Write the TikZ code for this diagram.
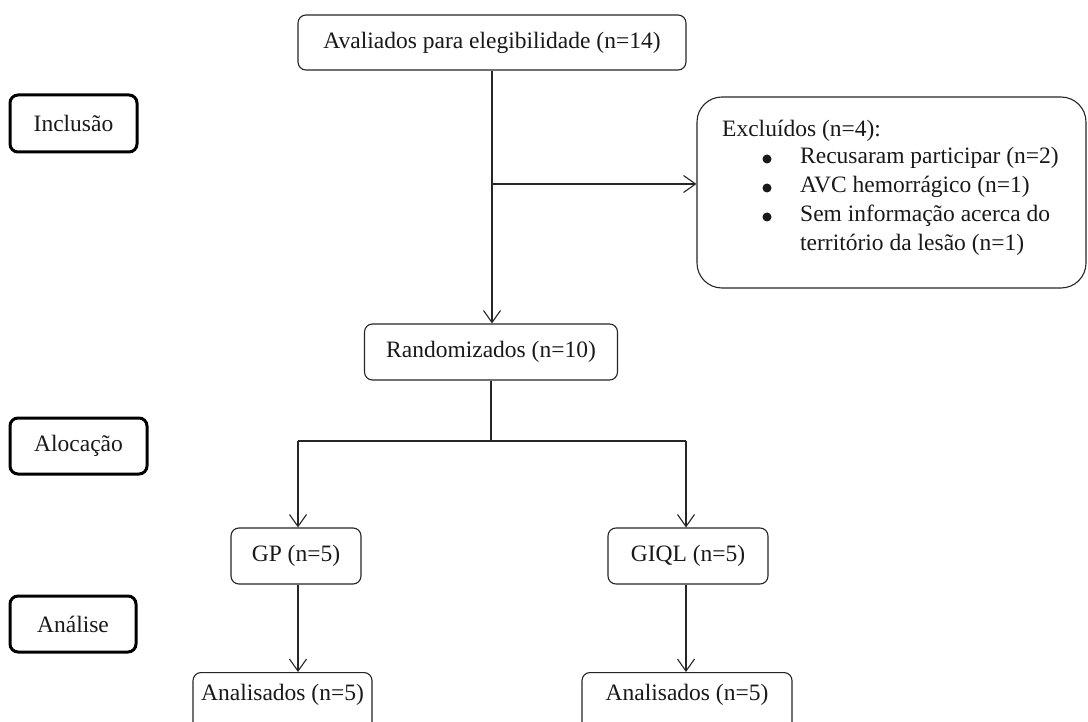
\documentclass[tikz,border=0pt]{standalone}
\usepackage{fontspec}
\setmainfont{Liberation Serif}
\usetikzlibrary{arrows.meta}
\begin{document}
\begin{tikzpicture}[x=1pt,y=-1pt,
  every node/.style={font=\fontsize{23.5}{29}\selectfont, text=black!90},
  box/.style={draw=black!85, line width=1.1pt, rounded corners=8pt, inner sep=0pt},
  stagebox/.style={draw=black, line width=3pt, rounded corners=8pt, inner sep=0pt},
  txt/.style={inner sep=0pt, anchor=west},
  bul/.style={circle, fill=black!90, inner sep=0pt, minimum size=9pt},
  arr/.style={draw=black!85, line width=1.1pt, -{Straight Barb[length=12pt,width=17pt,line width=1.1pt]}},
  ln/.style={draw=black!85, line width=1.1pt}]
\clip (0,0) rectangle (1088,722);
\fill[white] (0,0) rectangle (1088,722);

% main flow
\node[box, minimum width=388pt, minimum height=55pt] (top) at (492,42.5) {Avaliados para elegibilidade (n=14)};
\node[box, rounded corners=25pt, minimum width=389pt, minimum height=191pt] (excl) at (891.5,192.5) {};
\node[txt] (e0) at (722,131) {Excluídos (n=4):};
\node[bul] (b1) at (767,159) {};
\node[txt] (e1) at (800,158) {Recusaram participar (n=2)};
\node[bul] (b2) at (767,188) {};
\node[txt] (e2) at (800,187) {AVC hemorrágico (n=1)};
\node[bul] (b3) at (767,217) {};
\node[txt] (e3) at (800,216) {Sem informação acerca do};
\node[txt] (e4) at (800,245) {território da lesão (n=1)};

\node[box, minimum width=253pt, minimum height=56pt] (rand) at (491,352) {Randomizados (n=10)};
\node[box, minimum width=130pt, minimum height=56pt] (gp) at (296,556) {GP (n=5)};
\node[box, minimum width=160pt, minimum height=56pt] (giql) at (688,556) {GIQL (n=5)};
\node[box, minimum width=179pt, minimum height=60pt, text depth=20pt, anchor=north] (an1) at (282.5,672) {Analisados (n=5)};
\node[box, minimum width=210pt, minimum height=60pt, text depth=20pt, anchor=north] (an2) at (687,672) {Analisados (n=5)};

% stage labels
\node[stagebox, minimum width=127pt, minimum height=57pt] (incl) at (73.5,123.5) {Inclusão};
\node[stagebox, minimum width=137pt, minimum height=56pt] (aloc) at (78.5,446) {Alocação};
\node[stagebox, minimum width=126pt, minimum height=56pt] (anal) at (73,624) {Análise};

% connectors
\coordinate (j1) at (492,184);
\coordinate (sl) at (298,441);
\coordinate (sr) at (686,441);
\coordinate (sc) at (491,441);
\draw[arr] (top.south) -- (top.south |- rand.north);
\draw[arr] (j1) -- (j1 -| excl.west);
\draw[ln] (rand.south) -- (sc);
\draw[ln] (sl) -- (sr);
\draw[arr] (sl) -- (sl |- gp.north);
\draw[arr] (sr) -- (sr |- giql.north);
\draw[arr] (sl |- gp.south) -- (sl |- an1.north);
\draw[arr] (sr |- giql.south) -- (sr |- an2.north);
\end{tikzpicture}
\end{document}
